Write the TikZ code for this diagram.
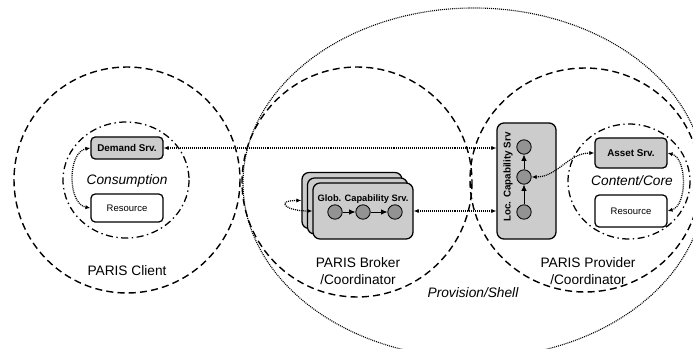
\documentclass[tikz,border=0pt]{standalone}
\usepackage{fontspec}
\setmainfont{Liberation Sans}
\usetikzlibrary{arrows.meta}
\tikzset{
  srvBox/.style={rectangle, rounded corners=3pt, draw=black, fill=gray!40, line width=0.9pt,
              minimum width=1.8cm, font=\fontsize{7}{8}\selectfont\bfseries, inner sep=0pt},
  resBox/.style={rectangle, rounded corners=3pt, draw=black, fill=white, line width=0.9pt,
              minimum width=1.8cm, font=\fontsize{6.75}{8}\selectfont, inner sep=0pt},
  globBox/.style={rectangle, rounded corners=5pt, draw=black, fill=gray!40, line width=0.9pt,
              minimum width=2.5cm, minimum height=1.4cm},
  locBox/.style={rectangle, rounded corners=5pt, draw=black, fill=gray!40, line width=0.9pt,
              minimum width=1.475cm, minimum height=2.9cm},
  stepDot/.style={circle, draw=black, fill=gray!85, line width=0.6pt, minimum size=0.36cm, inner sep=0pt},
  titleText/.style={font=\fontsize{6.6}{8}\selectfont\bfseries, inner sep=0pt},
  areaText/.style={font=\fontsize{9.75}{12}\selectfont, align=center, inner sep=0pt},
  coreText/.style={font=\fontsize{9.75}{12}\selectfont\itshape, inner sep=0pt},
  region/.style={line width=1pt, dash pattern=on 5pt off 3pt},
  core/.style={line width=0.9pt, dash pattern=on 5pt off 2.5pt on 1pt off 2.5pt},
  shell/.style={line width=0.8pt, dash pattern=on 0.7pt off 0.7pt},
  dotArrow/.style={<->, line width=0.9pt, dash pattern=on 0.7pt off 0.7pt},
  flowArrow/.style={-{Latex[length=4.5pt,width=4pt]}, line width=0.6pt}
}

\begin{document}
\begin{tikzpicture}[x=0.025cm, y=-0.025cm, >={Latex[length=3.5pt,width=3pt]}]
\useasboundingbox (0,0) rectangle (693,349);
\clip (0,0) rectangle (693,349);

% Areas
\draw[shell] (474,183) ellipse [x radius=231, y radius=175];
\draw[region] (127,180) circle [radius=113];
\draw[region] (357,182) circle [radius=115];
\draw[region] (585,180) ellipse [x radius=115, y radius=112];
\draw[core] (126,180) ellipse [x radius=63, y radius=58];
\draw[core] (629,181.5) ellipse [x radius=61, y radius=57.5];

% Client
\node[srvBox, minimum height=0.55cm] (demand) at (127,148) {Demand Srv.};
\node[resBox, minimum height=0.7cm] (res1) at (127,208) {Resource};
\node[coreText] (consumption) at (127,181) {Consumption};
\node[areaText] (client) at (127,271) {PARIS Client};

% Broker
\node[globBox] (globC) at (352,200.5) {};
\node[globBox] (globB) at (357.5,206) {};
\node[globBox] (globA) at (363,211) {};
\node[titleText] (globTitle) at (363,199) {Glob. Capability Srv.};
\node[stepDot] (g1) at (335,212) {};
\node[stepDot] (g2) at (363,212) {};
\node[stepDot] (g3) at (395,212) {};
\node[areaText] (broker) at (358,271.5) {PARIS Broker\\/Coordinator};

% Provider
\node[locBox] (loc) at (526.5,181) {};
\node[titleText, font=\fontsize{7}{8}\selectfont\bfseries, rotate=90] (locTitle) at (508,177) {Loc. Capability Srv};
\node[stepDot] (l1) at (524,212) {};
\node[stepDot] (l2) at (524,177) {};
\node[stepDot] (l3) at (524,147) {};
\node[srvBox, minimum height=0.75cm] (asset) at (631,153) {Asset Srv.};
\node[resBox, minimum height=0.8cm] (res2) at (631,211) {Resource};
\node[coreText] (content) at (632,181) {Content/Core};
\node[areaText] (provider) at (588,271.5) {PARIS Provider\\/Coordinator};

\node[coreText] (shellText) at (473,293) {Provision/Shell};

% Solid arrows
\draw[flowArrow] (g1) -- (g2);
\draw[flowArrow] (g2) -- (g3);
\draw[flowArrow] (l1) -- (l2);
\draw[flowArrow] (l2) -- (l3);

% Dotted arrows
\draw[dotArrow] (demand.east) -- (demand.east -| loc.west);
\draw[dotArrow] (globA.east) -- (globA.east -| loc.west);
\draw[dotArrow] (demand.west) to[out=190, in=170, looseness=1] (res1.west);
\draw[dotArrow] (globC.west) to[out=180, in=180, looseness=4.5] (globA.west);
\draw[dotArrow] (l2.east) to[out=0, in=180] (asset.west);
\draw[dotArrow] (asset.east) to[out=-15, in=15, looseness=0.9] (res2.east);

\end{tikzpicture}
\end{document}
